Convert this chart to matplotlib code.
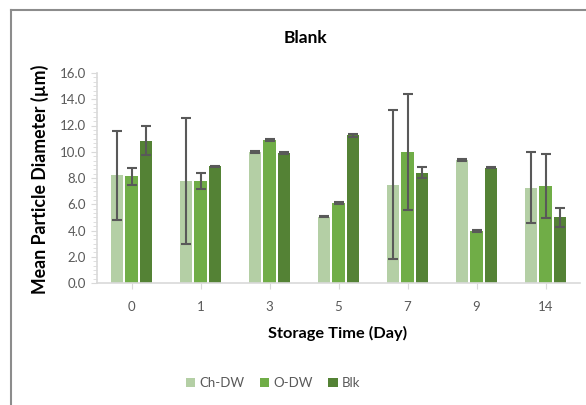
import matplotlib
matplotlib.use("Agg")
import matplotlib.pyplot as plt
import numpy as np
from matplotlib.ticker import MultipleLocator, AutoMinorLocator, FormatStrFormatter
from matplotlib.lines import Line2D

days = ["0", "1", "3", "5", "7", "9", "14"]
series = ["Ch-DW", "O-DW", "Blk"]
ch_dw = [8.2, 7.8, 10.0, 5.05, 7.5, 9.4, 7.25]
ch_dw_err = [3.4, 4.8, 0.08, 0.05, 5.65, 0.07, 2.7]
o_dw = [8.15, 7.8, 10.9, 6.1, 10.0, 3.97, 7.4]
o_dw_err = [0.65, 0.6, 0.08, 0.05, 4.4, 0.1, 2.45]
blk = [10.85, 8.88, 9.9, 11.25, 8.4, 8.8, 5.0]
blk_err = [1.1, 0.06, 0.1, 0.1, 0.42, 0.07, 0.72]
colors = ["#b4cfa5", "#70ad47", "#548235"]

plt.rcParams['font.family'] = ['Lato', 'DejaVu Sans']

fig = plt.figure(figsize=(5.86, 4.05), dpi=100)
ax = fig.add_axes([97/586, 1-283/405, (580-97)/586, (283-73)/405])

x = np.arange(len(days))
w = 0.175
off = 0.215
for i, (vals, errs) in enumerate([(ch_dw, ch_dw_err), (o_dw, o_dw_err), (blk, blk_err)]):
    ax.bar(x + (i-1)*off, vals, width=w, color=colors[i], label=series[i], zorder=2)
    ax.errorbar(x + (i-1)*off, vals, yerr=errs, fmt='none', ecolor='#595959',
                elinewidth=1.5, capsize=3.5, capthick=1.5, zorder=3)

ax.set_xlim(-0.5, len(days)-0.5)
ax.set_ylim(0, 16)
ax.yaxis.set_major_locator(MultipleLocator(2))
ax.yaxis.set_minor_locator(AutoMinorLocator(6))
ax.yaxis.set_major_formatter(FormatStrFormatter('%.1f'))
ax.set_xticks(x)
ax.set_xticklabels(days)
for s in ['top', 'right']:
    ax.spines[s].set_visible(False)
for s in ['left', 'bottom']:
    ax.spines[s].set_color('#d9d9d9')
    ax.spines[s].set_linewidth(1.2)
ax.tick_params(axis='both', which='both', color='#d9d9d9', labelcolor='#595959', labelsize=9.5)
ax.tick_params(axis='y', which='major', length=4, pad=4)
ax.tick_params(axis='y', which='minor', length=3)
ax.tick_params(axis='x', which='major', length=4, pad=9)

fig.text(305/586, 1-38/405, "Blank", ha='center', va='center', fontsize=12.5, fontweight='bold', color='black')
fig.text(40/586, 1-179/405, "Mean Particle Diameter (\u00b5m)", ha='center', va='center', rotation=90,
         fontsize=12.8, fontweight='bold', color='black')
fig.text(338/586, 1-333/405, "Storage Time (Day)", ha='center', va='center', fontsize=11.8, fontweight='bold', color='black')

leg = fig.legend(loc='center', bbox_to_anchor=(273/586, 1-383/405), ncol=3, frameon=False,
                 fontsize=9.5, handlelength=0.7, handleheight=0.7, handletextpad=0.3, columnspacing=1.2)
for t in leg.get_texts():
    t.set_color('#595959')

fig.add_artist(Line2D([11/586, 11/586], [0, 1-10/405], transform=fig.transFigure, color='#8c8c8c', linewidth=1.5))
fig.add_artist(Line2D([11/586, 1], [1-10/405, 1-10/405], transform=fig.transFigure, color='#8c8c8c', linewidth=1.5))

fig.savefig("out.png", dpi=100)
